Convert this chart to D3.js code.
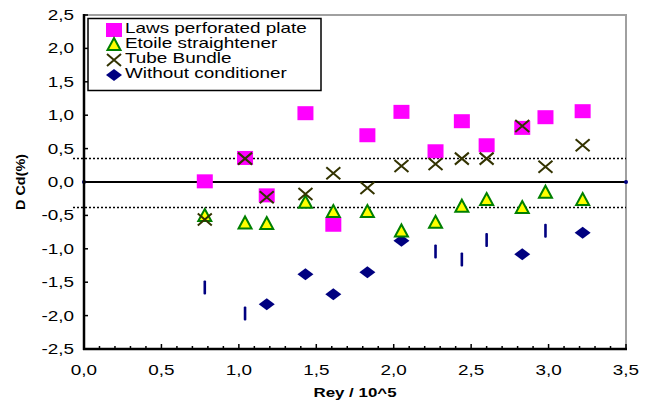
<!DOCTYPE html>
<html>
<head>
<meta charset="utf-8">
<script src="https://cdn.jsdelivr.net/npm/d3@7"></script>
<style>
  body { margin: 0; background: #fff; }
  text { font-family: "Liberation Sans", Arial, sans-serif; }
</style>
</head>
<body>
<svg id="svg" width="645" height="405"></svg>
<script>
// Reynolds numbers (x / 10^5) shared by all series
var rey = [0.78, 1.04, 1.18, 1.43, 1.61, 1.83, 2.05, 2.27, 2.44, 2.60, 2.83, 2.98, 3.22];
var lawsPlate = [0.01, 0.36, -0.20, 1.03, -0.64, 0.70, 1.05, 0.46, 0.91, 0.55, 0.81, 0.97, 1.06];
var etoile = [-0.51, -0.62, -0.63, -0.31, -0.45, -0.45, -0.74, -0.61, -0.37, -0.27, -0.39, -0.16, -0.27];
var tubeBundle = [-0.56, 0.35, -0.23, -0.18, 0.13, -0.09, 0.24, 0.27, 0.35, 0.35, 0.84, 0.23, 0.55];
var withoutCond = [-1.58, -1.97, -1.83, -1.38, -1.68, -1.35, -0.88, -1.04, -1.16, -0.87, -1.08, -0.73, -0.76];
var limits = [0.35, -0.38];
var seriesNames = ["Laws perforated plate", "Etoile straightener", "Tube Bundle", "Without conditioner"];
var xTicks = [0, 0.5, 1, 1.5, 2, 2.5, 3, 3.5];
var yTicks = [-2.5, -2, -1.5, -1, -0.5, 0, 0.5, 1, 1.5, 2, 2.5];

// points of the last series that the original shows as thin bars
var thinIdx = [0, 1, 7, 8, 9, 11];

var svg = d3.select("#svg");
var x = d3.scaleLinear().domain([0, 3.5]).range([84, 626]);
var y = d3.scaleLinear().domain([-2.5, 2.5]).range([349, 15]);
var fmt = function(v) { return d3.format(".1f")(v).replace(".", ",").replace("−", "-"); };

// stretched text, the original looks wider than the font
function label(g, str, tx, ty, anchor, size, weight, k, rot) {
    return g.append("text")
        .attr("transform", "translate(" + tx + "," + ty + ")" + (rot ? " rotate(" + rot + ")" : "") + " scale(" + k + ",1)")
        .attr("text-anchor", anchor)
        .attr("font-size", size)
        .attr("font-weight", weight)
        .attr("fill", "#000")
        .text(str);
}

// grey frame top/right
svg.append("path")
    .attr("d", "M" + x(0) + "," + y(2.5) + "H" + x(3.5) + "V" + y(-2.5))
    .attr("fill", "none").attr("stroke", "#a0a0a0").attr("stroke-width", 2);

// dotted limit lines
svg.selectAll(".lim").data(limits).enter().append("line")
    .attr("x1", 73).attr("x2", x(3.5))
    .attr("y1", function(d) { return y(d); }).attr("y2", function(d) { return y(d); })
    .attr("stroke", "#000").attr("stroke-width", 1.5).attr("stroke-dasharray", "2,2");

// zero line
svg.append("line").attr("x1", x(0)).attr("x2", x(3.5)).attr("y1", y(0)).attr("y2", y(0))
    .attr("stroke", "#000").attr("stroke-width", 2);
svg.selectAll(".zdot").data([0, 3.5]).enter().append("circle")
    .attr("cx", function(d) { return x(d); }).attr("cy", y(0)).attr("r", 2).attr("fill", "#000080");

// axes
var xMinor = d3.range(0, 3.51, 0.1);
svg.selectAll(".xmin").data(xMinor).enter().append("line")
    .attr("x1", function(d) { return x(d); }).attr("x2", function(d) { return x(d); })
    .attr("y1", y(-2.5)).attr("y2", function(d, i) { return y(-2.5) - (i % 5 === 0 ? 5 : 3); })
    .attr("stroke", "#000").attr("stroke-width", 1.5);
svg.selectAll(".ytk").data(yTicks).enter().append("line")
    .attr("x1", x(0)).attr("x2", x(0) + 4)
    .attr("y1", function(d) { return y(d); }).attr("y2", function(d) { return y(d); })
    .attr("stroke", "#000").attr("stroke-width", 1.5);
svg.append("line").attr("x1", x(0)).attr("x2", x(0)).attr("y1", y(2.5) - 1).attr("y2", y(-2.5) + 1)
    .attr("stroke", "#000").attr("stroke-width", 2.5);
svg.append("line").attr("x1", x(0) - 1).attr("x2", x(3.5) + 1).attr("y1", y(-2.5)).attr("y2", y(-2.5))
    .attr("stroke", "#000").attr("stroke-width", 2.5);

xTicks.forEach(function(t) { label(svg, fmt(t), x(t), 375, "middle", 14, "normal", 1.35); });
yTicks.forEach(function(t) { label(svg, fmt(t), 74, y(t) + 5, "end", 14, "normal", 1.35); });

label(svg, "Rey / 10^5", x(1.75), 397, "middle", 13, "bold", 1.3);
label(svg, "D Cd(%)", 25, 182, "middle", 12, "bold", 1.2, -90);

// marker drawers
function square(g, cx, cy) {
    g.append("rect").attr("x", cx - 8).attr("y", cy - 7).attr("width", 16).attr("height", 14).attr("fill", "#ff00ff");
}
function triangle(g, cx, cy) {
    g.append("path").attr("d", "M" + cx + "," + (cy - 7) + "L" + (cx + 6.5) + "," + (cy + 5) + "L" + (cx - 6.5) + "," + (cy + 5) + "Z")
        .attr("fill", "#ffff00").attr("stroke", "#008000").attr("stroke-width", 2).attr("stroke-linejoin", "miter");
}
function cross(g, cx, cy) {
    g.append("path").attr("d", "M" + (cx - 7) + "," + (cy - 6) + "L" + (cx + 7) + "," + (cy + 6) + "M" + (cx + 7) + "," + (cy - 6) + "L" + (cx - 7) + "," + (cy + 6))
        .attr("stroke", "#333300").attr("stroke-width", 2).attr("fill", "none");
}
function diamond(g, cx, cy) {
    g.append("path").attr("d", "M" + cx + "," + (cy - 6) + "L" + (cx + 8) + "," + cy + "L" + cx + "," + (cy + 6) + "L" + (cx - 8) + "," + cy + "Z")
        .attr("fill", "#000080");
}
function thin(g, cx, cy) {
    g.append("rect").attr("x", cx - 1.3).attr("y", cy - 7).attr("width", 2.6).attr("height", 14).attr("rx", 1).attr("fill", "#000080");
}

var marks = svg.append("g");
rey.forEach(function(r, i) { square(marks, x(r), y(lawsPlate[i])); });
rey.forEach(function(r, i) {
    if (thinIdx.indexOf(i) >= 0) thin(marks, x(r), y(withoutCond[i]));
    else diamond(marks, x(r), y(withoutCond[i]));
});
rey.forEach(function(r, i) { triangle(marks, x(r), y(etoile[i])); });
rey.forEach(function(r, i) { cross(marks, x(r), y(tubeBundle[i])); });

// legend
var lg = svg.append("g");
lg.append("rect").attr("x", 88).attr("y", 18.5).attr("width", 233).attr("height", 72)
    .attr("fill", "#fff").attr("stroke", "#000").attr("stroke-width", 1.5);
var drawers = [square, triangle, cross, diamond];
seriesNames.forEach(function(n, i) {
    var yy = 33 + i * 15;
    drawers[i](lg, 114, yy - 3);
    label(lg, n, 125, yy, "start", 14, "normal", 1.35);
});
</script>
</body>
</html>
